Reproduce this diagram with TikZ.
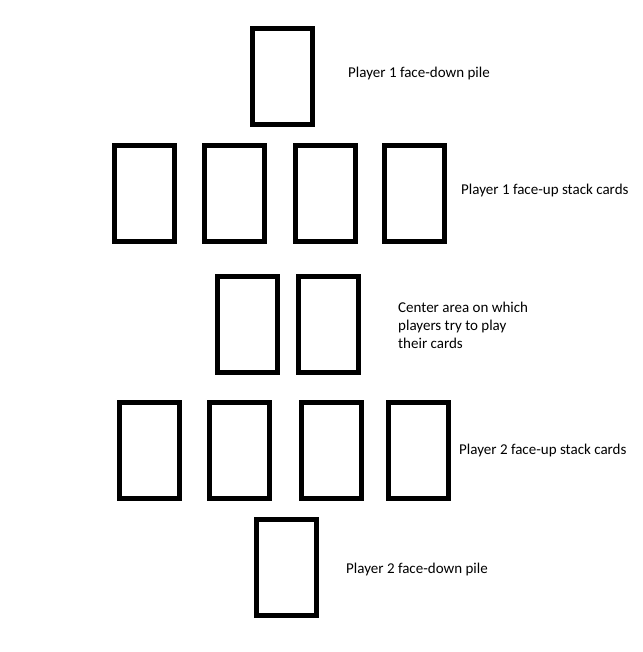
\documentclass[tikz,border=0pt]{standalone}
\usepackage{fontspec}
\setmainfont{Carlito}
\begin{document}
\begin{tikzpicture}[x=1pt,y=-1pt,
  card/.style={draw=black,line width=5pt,fill=white,minimum width=60pt,minimum height=96pt,inner sep=0pt,outer sep=0pt},
  lbl/.style={anchor=base west,inner sep=0pt,font=\fontsize{15}{18}\selectfont,align=left}]
\useasboundingbox[fill=white] (0,0) rectangle (642,652);
% row 1
\node[card] (p1pile) at (282.5,76.5) {};
\node[lbl] (t1) at (348,78) {Player 1 face-down pile};
% row 2
\node[card] (p1a) at (144.5,193.5) {};
\node[card] (p1b) at (234.5,193.5) {};
\node[card] (p1c) at (325.5,193.5) {};
\node[card] (p1d) at (414.5,193.5) {};
\node[lbl] (t2) at (461,195) {Player 1 face-up stack cards};
% row 3
\node[card] (ca) at (247.5,324) {};
\node[card] (cb) at (328.5,324) {};
\node[lbl,anchor=north west] (t3) at (398,302) {Center area on which\\players try to play\\their cards};
% row 4
\node[card] (p2a) at (149.5,450.5) {};
\node[card] (p2b) at (239.5,450.5) {};
\node[card] (p2c) at (331.5,450.5) {};
\node[card] (p2d) at (418.5,450.5) {};
\node[lbl] (t4) at (459,454) {Player 2 face-up stack cards};
% row 5
\node[card] (p2pile) at (286.5,567.5) {};
\node[lbl] (t5) at (346,573) {Player 2 face-down pile};
\end{tikzpicture}
\end{document}
